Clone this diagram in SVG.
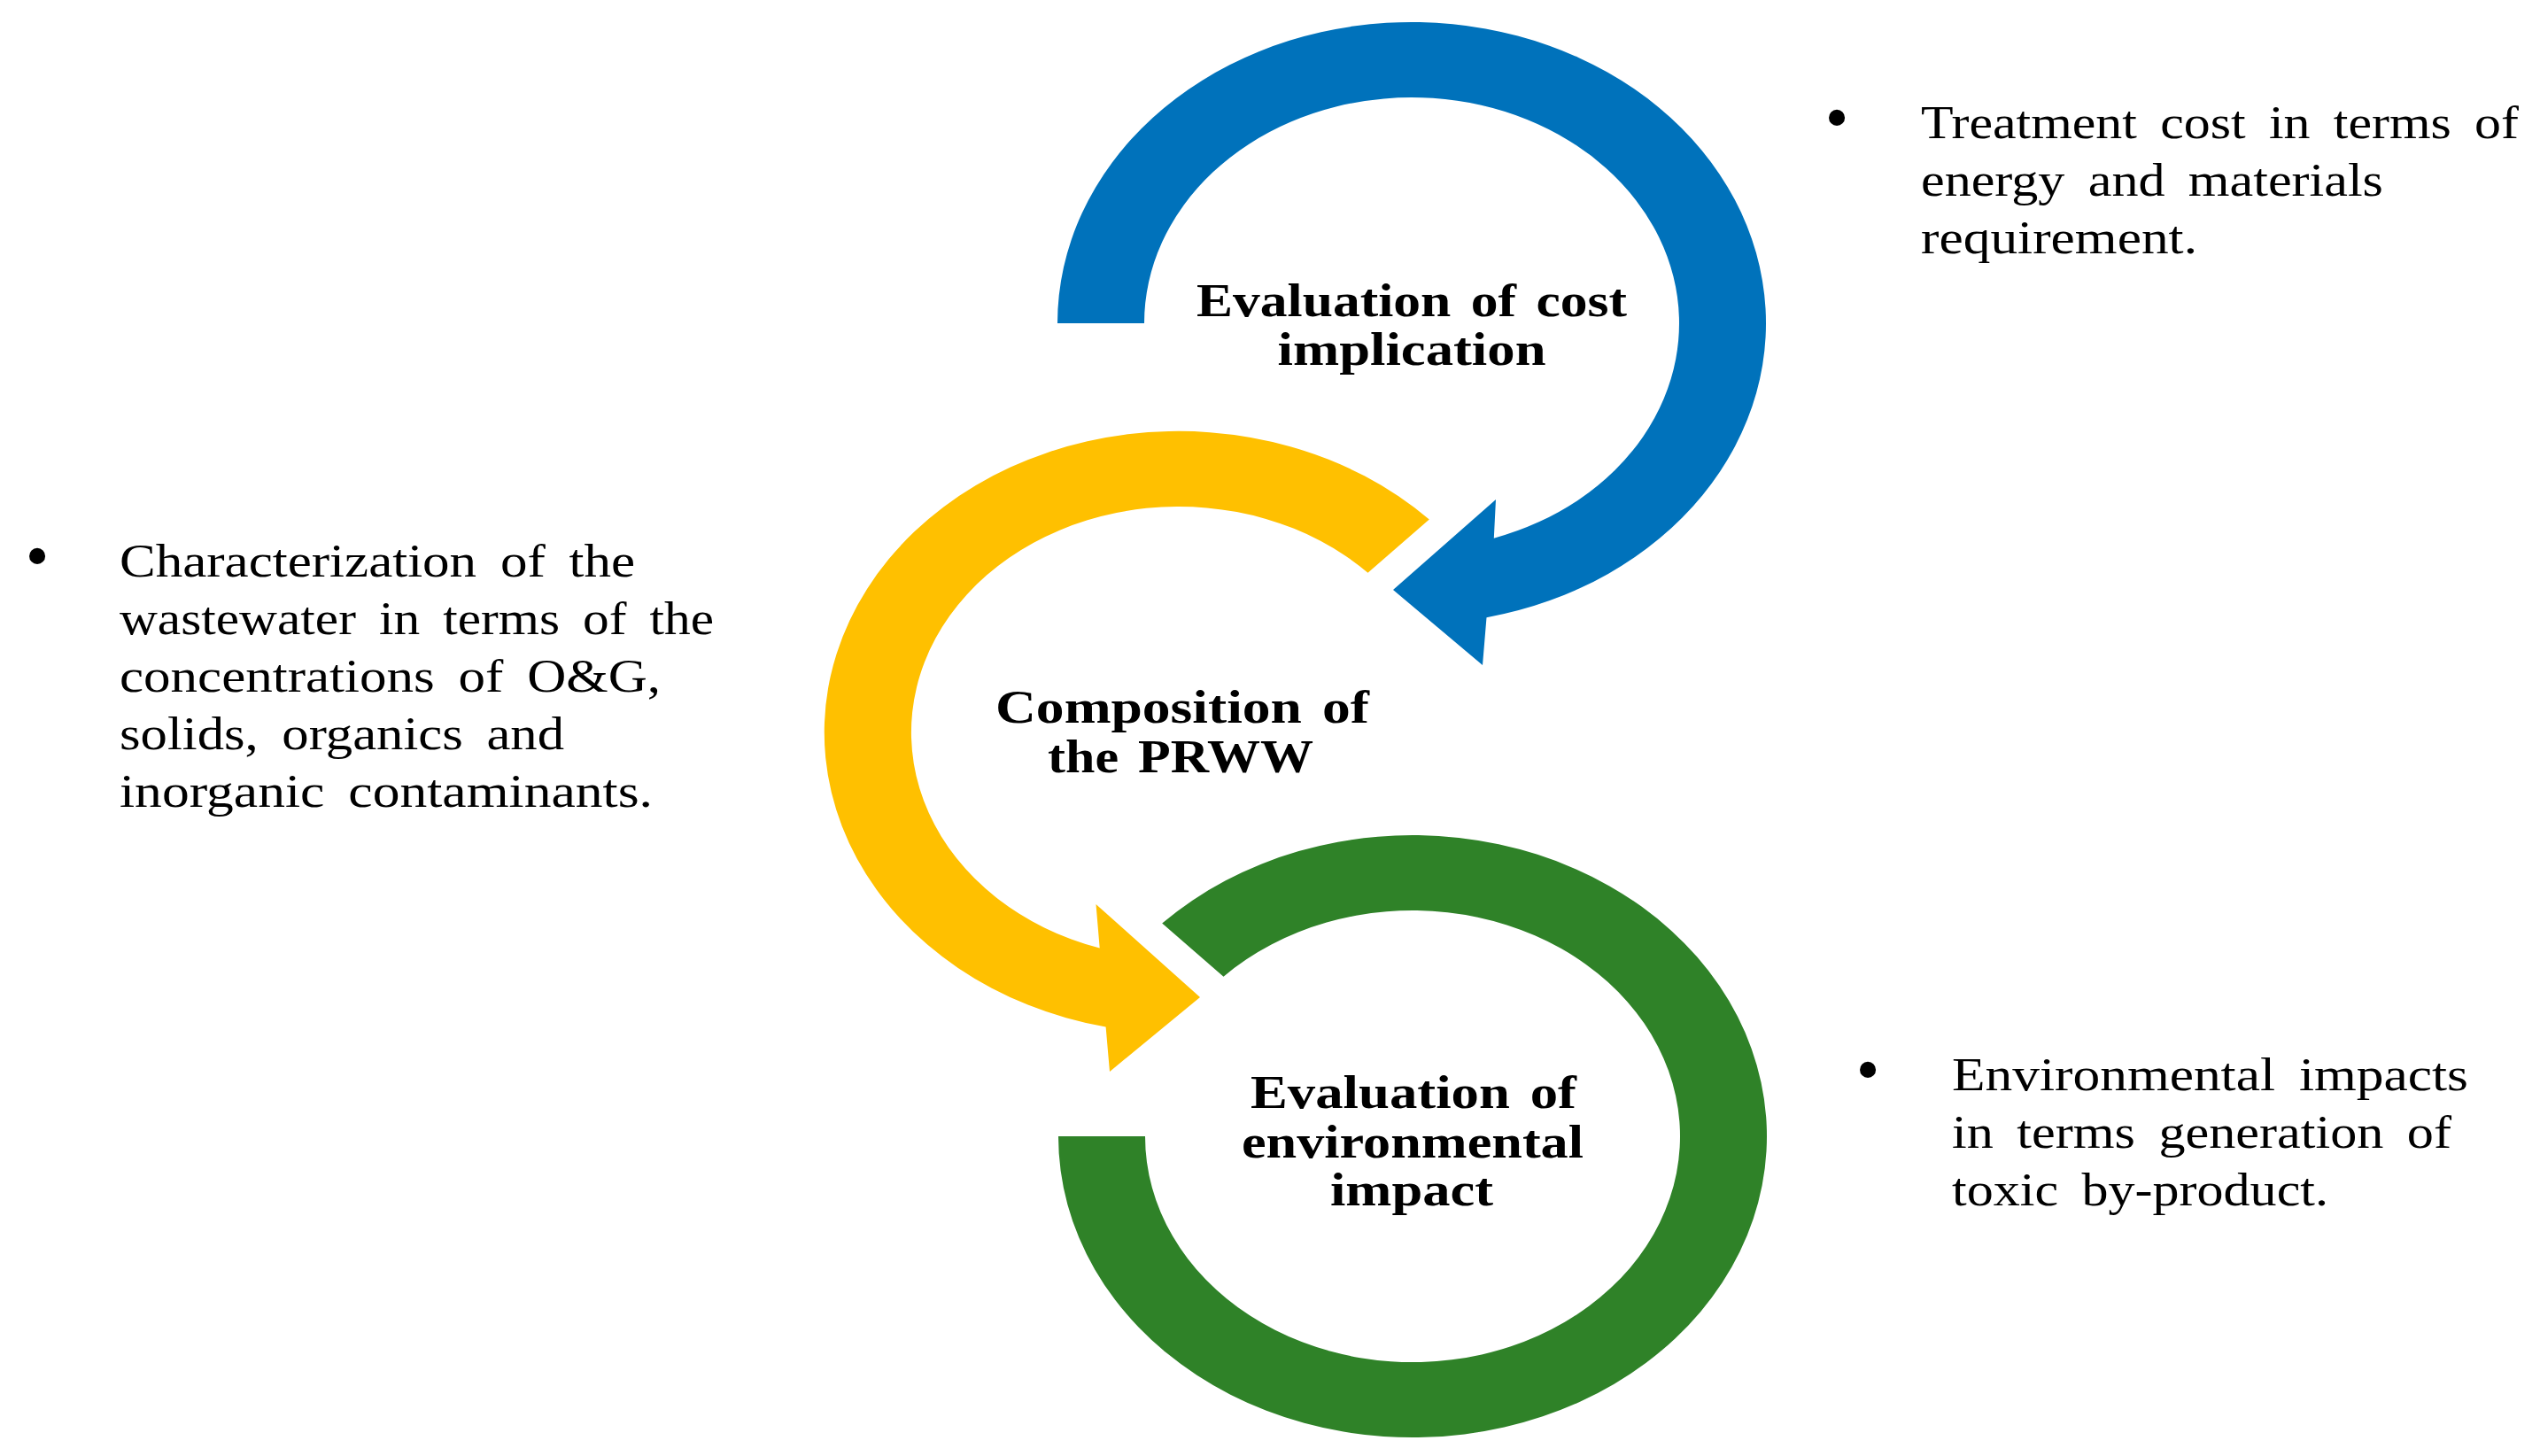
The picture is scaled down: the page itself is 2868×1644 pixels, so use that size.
<svg xmlns="http://www.w3.org/2000/svg" width="2868" height="1644" viewBox="0 0 2868 1644">
  <style>
    .label { font-family: "Liberation Serif", "Times New Roman", serif; font-weight: bold; font-size: 52px; fill: #000; text-anchor: middle; word-spacing: 6px; }
    .note { font-family: "Liberation Serif", "Times New Roman", serif; font-size: 53px; fill: #000; word-spacing: 10px; }
    .bullet { font-family: "Liberation Serif", "Times New Roman", serif; font-size: 76px; fill: #000; text-anchor: middle; }
  </style>
  <rect x="0" y="0" width="2868" height="1644" fill="#ffffff"/>

  <g id="node-cost">
    <path d="M 1194 365 A 400 340 0 1 1 1678.5 697.3 L 1674 751 L 1573 666 L 1689 564 L 1686.8 607.7 A 302 255 0 1 0 1292 365 Z" fill="#0072BB"/>
    <text class="label" x="1594" y="357" textLength="486" lengthAdjust="spacingAndGlyphs">Evaluation of cost</text>
    <text class="label" x="1594" y="412" textLength="303" lengthAdjust="spacingAndGlyphs">implication</text>
  </g>

  <g id="node-composition">
    <path d="M 1613.8 586.6 A 400 340 0 1 0 1248.6 1159.6 L 1253 1210 L 1355 1126 L 1237.5 1021 L 1241.7 1070.6 A 302 255 0 1 1 1544.5 646.7 Z" fill="#FFC000"/>
    <text class="label" x="1335" y="816" textLength="422" lengthAdjust="spacingAndGlyphs">Composition of</text>
    <text class="label" x="1333" y="872" textLength="300" lengthAdjust="spacingAndGlyphs">the PRWW</text>
  </g>

  <g id="node-impact">
    <path d="M 1312.2 1042.6 A 400 340 0 1 1 1195 1283 L 1293 1283 A 302 255 0 1 0 1381.5 1102.7 Z" fill="#2F8228"/>
    <text class="label" x="1596" y="1251" textLength="368" lengthAdjust="spacingAndGlyphs">Evaluation of</text>
    <text class="label" x="1595" y="1307" textLength="386" lengthAdjust="spacingAndGlyphs">environmental</text>
    <text class="label" x="1594" y="1361" textLength="184" lengthAdjust="spacingAndGlyphs">impact</text>
  </g>

  <g id="connectors"></g>

  <g id="note-composition">
    <text class="bullet" x="42" y="653">•</text>
    <text class="note" x="135" y="651" textLength="582" lengthAdjust="spacingAndGlyphs">Characterization of the</text>
    <text class="note" x="135" y="716" textLength="671" lengthAdjust="spacingAndGlyphs">wastewater in terms of the</text>
    <text class="note" x="135" y="781" textLength="611" lengthAdjust="spacingAndGlyphs">concentrations of O&amp;G,</text>
    <text class="note" x="135" y="846" textLength="502" lengthAdjust="spacingAndGlyphs">solids, organics and</text>
    <text class="note" x="135" y="911" textLength="602" lengthAdjust="spacingAndGlyphs">inorganic contaminants.</text>
  </g>

  <g id="note-cost">
    <text class="bullet" x="2074" y="158">•</text>
    <text class="note" x="2169" y="156" textLength="675" lengthAdjust="spacingAndGlyphs">Treatment cost in terms of</text>
    <text class="note" x="2169" y="221" textLength="522" lengthAdjust="spacingAndGlyphs">energy and materials</text>
    <text class="note" x="2169" y="286" textLength="312" lengthAdjust="spacingAndGlyphs">requirement.</text>
  </g>

  <g id="note-impact">
    <text class="bullet" x="2109" y="1233">•</text>
    <text class="note" x="2204" y="1231" textLength="583" lengthAdjust="spacingAndGlyphs">Environmental impacts</text>
    <text class="note" x="2204" y="1296" textLength="564" lengthAdjust="spacingAndGlyphs">in terms generation of</text>
    <text class="note" x="2204" y="1361" textLength="425" lengthAdjust="spacingAndGlyphs">toxic by-product.</text>
  </g>
</svg>
